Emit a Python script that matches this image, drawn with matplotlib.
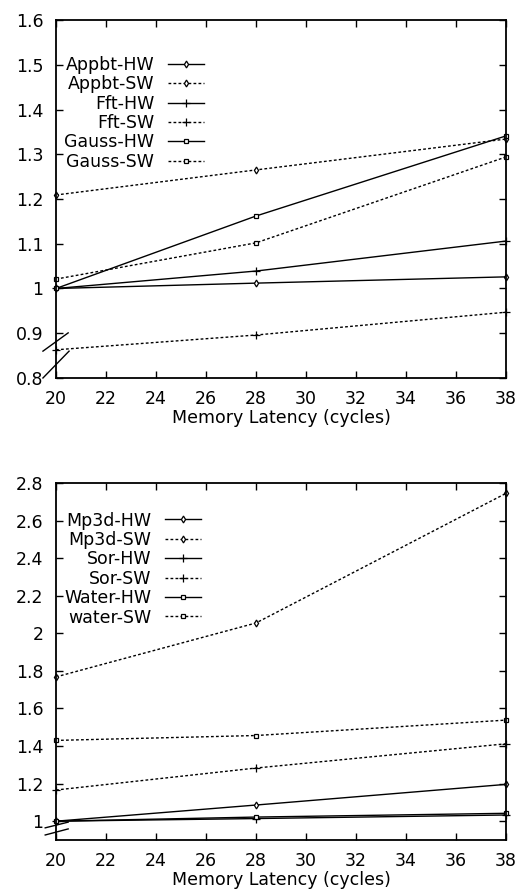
import numpy as np
import matplotlib
matplotlib.use("Agg")
import matplotlib.pyplot as plt
from matplotlib.ticker import FormatStrFormatter

plt.rcParams['font.family'] = ['DejaVu Sans']
plt.rcParams['font.size'] = 12.5

latency = [20, 28, 38]

# upper panel
appbt_hw = [1.000, 1.012, 1.026]
appbt_sw = [1.209, 1.265, 1.334]
fft_hw = [1.000, 1.039, 1.106]
fft_sw = [0.863, 0.896, 0.947]
gauss_hw = [1.000, 1.162, 1.341]
gauss_sw = [1.021, 1.102, 1.294]

# lower panel
mp3d_hw = [1.000, 1.086, 1.196]
mp3d_sw = [1.768, 2.055, 2.745]
sor_hw = [1.000, 1.014, 1.033]
sor_sw = [1.166, 1.283, 1.412]
water_hw = [1.000, 1.022, 1.042]
water_sw = [1.430, 1.456, 1.538]

top_names = ['Appbt-HW', 'Appbt-SW', 'Fft-HW', 'Fft-SW', 'Gauss-HW', 'Gauss-SW']
top_series = [appbt_hw, appbt_sw, fft_hw, fft_sw, gauss_hw, gauss_sw]
bot_names = ['Mp3d-HW', 'Mp3d-SW', 'Sor-HW', 'Sor-SW', 'Water-HW', 'water-SW']
bot_series = [mp3d_hw, mp3d_sw, sor_hw, sor_sw, water_hw, water_sw]

markers = ['d', 'd', '+', '+', 's', 's']
dotted = (0, (2, 1.6))
styles = ['-', dotted, '-', dotted, '-', dotted]

fig = plt.figure(figsize=(5.21, 8.9), dpi=100)
ax1 = fig.add_axes([0.1075, 0.5753, 0.8637, 0.4022])
ax2 = fig.add_axes([0.1075, 0.0562, 0.8637, 0.4011])


def draw(ax, names, series, ylim, yticks, brk, leg_anchor):
    for name, ys, m, ls in zip(names, series, markers, styles):
        ms = 6 if m == '+' else 3.5
        ax.plot(latency, ys, color='black', lw=1, linestyle=ls, marker=m,
                markersize=ms, markerfacecolor='white', markeredgecolor='black',
                markeredgewidth=0.9, label=name, clip_on=False)
    ax.set_xlim(20, 38)
    ax.set_ylim(*ylim)
    ax.set_xticks(np.arange(20, 39, 2))
    ax.set_yticks(yticks)
    ax.yaxis.set_major_formatter(FormatStrFormatter('%g'))
    ax.tick_params(direction='in', top=True, right=True, length=5, width=1,
                   labelsize=12.5)
    ax.tick_params(axis='y', pad=9)
    ax.tick_params(axis='x', pad=9)
    for s in ax.spines.values():
        s.set_linewidth(1.3)
    ax.set_xlabel('Memory Latency (cycles)', fontsize=12.5, labelpad=0.5)
    # axis break marks
    for (x0, y0, x1, y1) in brk:
        ax.plot([x0, x1], [y0, y1], transform=ax.transAxes, color='black',
                lw=1, clip_on=False)
    leg = ax.legend(loc='upper left', bbox_to_anchor=leg_anchor,
                    frameon=False, markerfirst=False, handlelength=2.1,
                    handletextpad=0.8, labelspacing=0.08, borderpad=0,
                    borderaxespad=0, numpoints=1, fontsize=12.5)
    for t in leg.get_texts():
        t.set_ha('right')
    return leg


draw(ax1, top_names, top_series, (0.8, 1.6), np.arange(0.8, 1.61, 0.1),
     [(-0.029, 0.075, 0.027, 0.126), (-0.029, 0.0, 0.029, 0.075)],
     (0.018, 0.90))
draw(ax2, bot_names, bot_series, (0.9, 2.8), np.arange(1.0, 2.81, 0.2),
     [(-0.024, 0.034, 0.027, 0.050), (-0.024, 0.014, 0.027, 0.031)],
     (0.018, 0.92))

fig.savefig('out.png', dpi=100)
